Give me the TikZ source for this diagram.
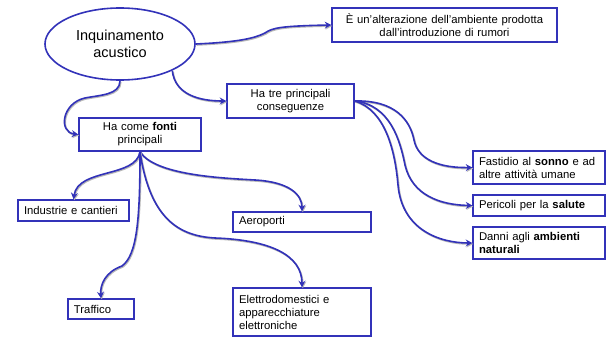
\documentclass[tikz,border=0pt]{standalone}
\usepackage{fontspec}
\setmainfont{Liberation Sans}
\usetikzlibrary{arrows.meta,shapes.geometric}
\definecolor{cblue}{RGB}{50,50,185}
\newcommand{\fsmall}{\fontsize{11.3}{13}\selectfont}
\newcommand{\fbig}{\fontsize{14.5}{17}\selectfont}
\begin{document}
\begin{tikzpicture}[x=1pt,y=-1pt,
  box/.style={draw=cblue, line width=1.5pt, fill=white, font=\fsmall, inner xsep=6pt, inner ysep=0pt, anchor=center},
  conn/.style={draw=cblue, line width=1.6pt, -{Stealth[length=6.5pt,width=7pt,inset=2.2pt]},
     preaction={draw=black!28, line width=1.6pt, transform canvas={xshift=0.8pt,yshift=-1pt}}},
]
\useasboundingbox (0,0) rectangle (606,337);

\node[ellipse, draw=cblue, line width=1.6pt, fill=white, minimum width=150pt, minimum height=72pt, inner sep=0pt, font=\fbig, align=center] (ell) at (120,44) {Inquinamento\\acustico};

\node[box, text width=213pt, minimum height=34pt, align=center] (def) at (444.5,25) {È un’alterazione dell’ambiente prodotta\\dall’introduzione di rumori};
\node[box, text width=115pt, minimum height=34pt, align=center] (cons) at (290.5,101) {Ha tre principali\\conseguenze};
\node[box, text width=110pt, minimum height=33pt, align=center] (fonti) at (140,134.5) {Ha come \textbf{fonti}\\principali};

\node[box, text width=99pt, minimum height=21pt, align=left] (ind) at (73.5,210.5) {Industrie e cantieri};
\node[box, text width=126pt, minimum height=20pt, align=left] (aero) at (302,222) {Aeroporti};
\node[box, text width=54pt, minimum height=20pt, align=left] (traf) at (101,309) {Traffico};
\node[box, text width=126pt, minimum height=48pt, align=left] (elet) at (302,312) {Elettrodomestici e\\apparecchiature\\elettroniche};

\node[box, text width=120pt, minimum height=33pt, align=left] (fast) at (539,167.5) {Fastidio al \textbf{sonno} e ad\\altre attività umane};
\node[box, text width=120pt, minimum height=21pt, align=left] (peri) at (539,205.5) {Pericoli per la \textbf{salute}};
\node[box, text width=120pt, minimum height=32pt, align=left] (danni) at (539,243) {Danni agli \textbf{ambienti}\\\textbf{naturali}};

% connectors from the ellipse
\draw[conn] (ell.east) .. controls (240,42) and (255,38) .. (265,33) .. controls (272,28) and (280,26) .. (def.west);
\draw[conn] (ell.-27) .. controls (175,95) and (200,101) .. (cons.west);
\draw[conn] (ell.south) .. controls (120,95) and (100,95) .. (85,98) .. controls (62,103) and (58,132) .. (fonti.west);

% connectors from "fonti"
\draw[conn] (fonti.south) .. controls (136,178) and (78,168) .. (ind.north);
\draw[conn] (fonti.south) .. controls (140,220) and (137,255) .. (122,266) .. controls (105,272) and (100,285) .. (traf.north);
\draw[conn] (fonti.south) .. controls (155,175) and (220,178) .. (255,180) .. controls (290,182) and (302,195) .. (aero.north);
\draw[conn] (fonti.south) .. controls (150,220) and (180,236) .. (215,238) .. controls (270,240) and (302,255) .. (elet.north);

% connectors from "conseguenze"
\draw[conn] (cons.east) .. controls (395,100) and (410,120) .. (414,140) .. controls (418,160) and (440,168) .. (fast.west);
\draw[conn] (cons.east) .. controls (390,105) and (400,140) .. (405,165) .. controls (412,195) and (440,205) .. (peri.west);
\draw[conn] (cons.east) .. controls (385,110) and (395,150) .. (398,185) .. controls (402,230) and (440,243) .. (danni.west);
\end{tikzpicture}
\end{document}
